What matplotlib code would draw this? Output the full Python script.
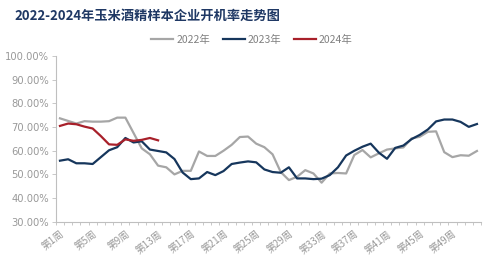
import numpy as np
import matplotlib
matplotlib.use('Agg')
import matplotlib.pyplot as plt
from matplotlib.ticker import FixedLocator, FuncFormatter

plt.rcParams['font.family'] = ['Noto Sans CJK SC', 'DejaVu Sans']

#### DATA
weeks = [f'第{i}周' for i in range(1, 53)]
rate_2022 = [73.7, 72.6, 71.5, 72.5, 72.3, 72.3, 72.5, 74.0, 74.0, 67.5,
             61.0, 58.5, 53.7, 53.0, 50.0, 51.5, 51.5, 59.7, 57.8, 57.8,
             60.0, 62.5, 65.8, 66.0, 63.0, 61.5, 58.5, 51.0, 47.6, 49.0,
             51.8, 50.4, 46.5, 50.4, 50.6, 50.4, 58.2, 60.3, 57.2, 58.9,
             60.5, 61.0, 61.4, 65.2, 65.9, 68.0, 68.2, 59.4, 57.3, 58.1,
             57.9, 59.9]
rate_2023 = [55.8, 56.4, 54.7, 54.7, 54.4, 57.3, 60.2, 61.5, 65.4, 63.5,
             64.0, 60.5, 59.9, 59.3, 56.5, 50.8, 48.0, 48.3, 51.0, 49.7,
             51.4, 54.4, 55.0, 55.5, 55.1, 52.1, 51.0, 50.7, 53.0, 48.3,
             48.3, 48.0, 48.2, 49.7, 53.0, 58.0, 60.0, 61.7, 63.0, 59.2,
             56.6, 61.2, 62.2, 64.9, 66.7, 69.0, 72.4, 73.2, 73.2, 72.2,
             70.1, 71.3]
rate_2024 = [70.5, 71.5, 71.2, 70.2, 69.4, 66.2, 62.7, 62.5, 64.8, 64.2,
             64.6, 65.4, 64.4]
series = [('2022年', rate_2022, '#a6a6a6'),
          ('2023年', rate_2023, '#16365c'),
          ('2024年', rate_2024, '#a8202a')]

fig = plt.figure(figsize=(4.99, 2.66), dpi=100)
ax = fig.add_axes([0.112, 0.1665, 0.852, 0.6225])

for name, vals, c in series:
    ax.plot(np.arange(len(vals)), vals, color=c, lw=1.6, label=name, solid_joinstyle='round')

ax.set_xlim(-0.5, 51.5)
ax.set_ylim(30, 100)
ax.set_yticks(np.arange(30, 101, 10))
ax.yaxis.set_major_formatter(FuncFormatter(lambda v, p: f'{v:.2f}%'))
ax.xaxis.set_major_locator(FixedLocator(np.arange(0, 52, 4)))
ax.set_xticklabels(weeks[::4], rotation=38, ha='right', rotation_mode='anchor',
                   fontsize=7, color='#999999', family=['Noto Sans CJK SC'])
ax.xaxis.set_minor_locator(FixedLocator(np.arange(-0.5, 52, 1)))
ax.tick_params(axis='x', which='major', length=0, pad=5)
ax.tick_params(axis='x', which='minor', length=2.5, color='#bfbfbf', width=0.6)
ax.tick_params(axis='y', length=3, color='#bfbfbf', width=0.6, labelsize=7.2,
               labelcolor='#999999', pad=2)
for lab in ax.get_yticklabels():
    lab.set_family('DejaVu Sans')

for s in ['top', 'right']:
    ax.spines[s].set_visible(False)
for s in ['left', 'bottom']:
    ax.spines[s].set_color('#bfbfbf')
    ax.spines[s].set_linewidth(0.8)

fig.text(0.03, 0.94, '2022-2024年玉米酒精样本企业开机率走势图', fontsize=9.5,
         fontweight='bold', color='#1f3864', va='center')
leg = fig.legend(loc='center', bbox_to_anchor=(0.505, 0.85), ncol=3, frameon=False,
                 fontsize=7.5, handlelength=2.1, columnspacing=1.2, handletextpad=0.3)
for t in leg.get_texts():
    t.set_color('#808080')

fig.savefig('out.png', dpi=100)
